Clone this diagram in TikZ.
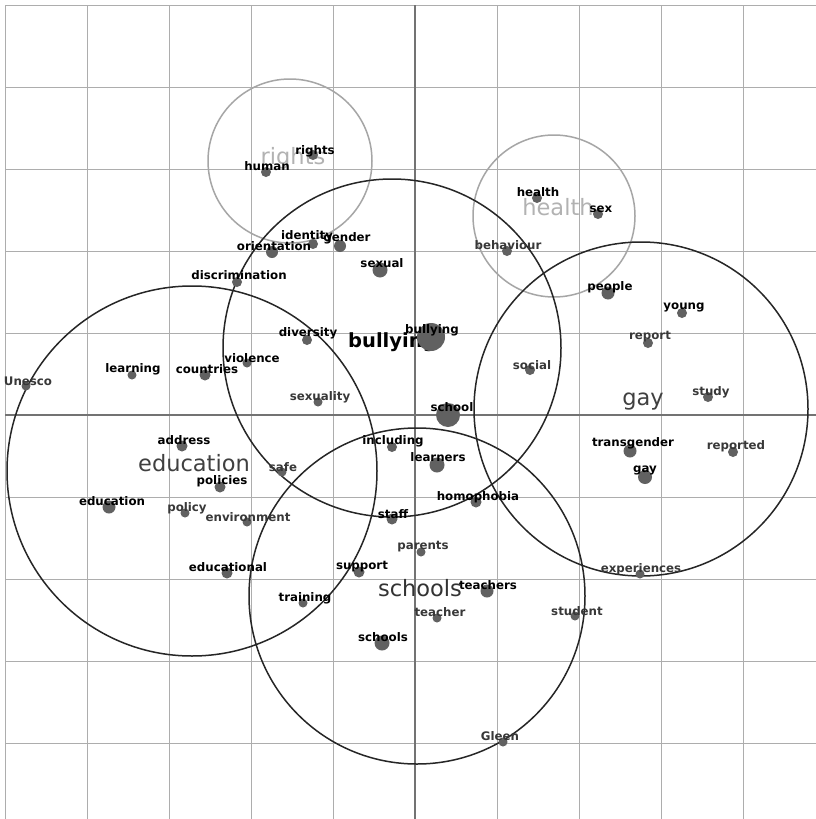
\documentclass[tikz,border=0pt]{standalone}
\usepackage{fontspec}
\setmainfont{DejaVu Sans}
\usepackage{tikz}

\begin{document}
\begin{tikzpicture}[x=1pt, y=-1pt,
    gridline/.style={black!32, line width=1pt},
    axisline/.style={black!55, line width=1.3pt},
    ring/.style={draw=black!85, line width=1.5pt, circle, inner sep=0pt},
    faintring/.style={draw=black!35, line width=1.5pt, circle, inner sep=0pt},
    termdot/.style={circle, fill=black!62, inner sep=0pt, minimum size=#1},
    termdot/.default=10pt,
    term/.style={font=\bfseries\fontsize{11.8}{11.8}\selectfont, inner sep=0pt},
    softterm/.style={font=\bfseries\fontsize{11.8}{11.8}\selectfont, text=black!78, inner sep=0pt},
    topic/.style={font=\fontsize{22.5}{22.5}\selectfont, inner sep=0pt}]
        % Cluster map of terms
        \useasboundingbox[fill=white] (0,0) rectangle (816,819);
        \foreach \k in {0,...,9} {
            \draw[gridline] (5+82*\k,5) -- (5+82*\k,819);
            \draw[gridline] (5,5+82*\k) -- (816,5+82*\k);
        }
        \draw[axisline] (415,5) -- (415,819);
        \draw[axisline] (5,415) -- (816,415);

        % clusters
        \node[faintring, minimum size=164pt] (rights-ring) at (290,161) {};
        \node[faintring, minimum size=162pt] (health-ring) at (554,216) {};
        \node[ring, minimum size=338pt] (bullying-ring) at (392,348) {};
        \node[ring, minimum size=334pt] (gay-ring) at (641,409) {};
        \node[ring, minimum size=370pt] (education-ring) at (192,471) {};
        \node[ring, minimum size=336pt] (schools-ring) at (417,596) {};

        \node[topic, text=black!30] (rights-topic) at (293,158) {rights};
        \node[topic, text=black!30] (health-topic) at (558,207) {health};
        \node[topic, font=\bfseries\fontsize{19.5}{19.5}\selectfont, anchor=west] (bullying-topic) at (348,342) {bullying};
        \node[topic, text=black!75] (gay-topic) at (643,402) {gay};
        \node[topic, text=black!75] (education-topic) at (194,463) {education};
        \node[topic, text=black!80] (schools-topic) at (420,588) {schools};

        % term dots
        \node[termdot] (d-rights) at (313,155) {};
        \node[termdot] (d-human) at (266,172) {};
        \node[termdot] (d-identity) at (313,244) {};
        \node[termdot=12pt] (d-gender) at (340,246) {};
        \node[termdot=12pt] (d-orientation) at (272,252) {};
        \node[termdot=15pt] (d-sexual) at (380,270) {};
        \node[termdot] (d-discrimination) at (237,282) {};
        \node[termdot] (d-health) at (537,198) {};
        \node[termdot] (d-sex) at (598,214) {};
        \node[termdot] (d-behaviour) at (507,251) {};
        \node[termdot=13pt] (d-people) at (608,293) {};
        \node[termdot] (d-young) at (682,313) {};
        \node[termdot] (d-report) at (648,343) {};
        \node[termdot] (d-social) at (530,370) {};
        \node[termdot] (d-study) at (708,397) {};
        \node[termdot=13pt] (d-transgender) at (630,451) {};
        \node[termdot] (d-reported) at (733,452) {};
        \node[termdot=14pt] (d-gay) at (645,477) {};
        \node[termdot=28pt] (d-bullying) at (431,337) {};
        \node[termdot] (d-diversity) at (307,340) {};
        \node[termdot=9pt] (d-violence) at (247,363) {};
        \node[termdot=9pt] (d-learning) at (132,375) {};
        \node[termdot=11pt] (d-countries) at (205,375) {};
        \node[termdot=9pt] (d-unesco) at (26,386) {};
        \node[termdot=9pt] (d-sexuality) at (318,402) {};
        \node[termdot=24pt] (d-school) at (448,415) {};
        \node[termdot=11pt] (d-address) at (182,446) {};
        \node[termdot=9pt] (d-safe) at (282,472) {};
        \node[termdot=11pt] (d-policies) at (220,487) {};
        \node[termdot=13pt] (d-education) at (109,507) {};
        \node[termdot=9pt] (d-policy) at (185,513) {};
        \node[termdot=9pt] (d-environment) at (247,522) {};
        \node[termdot] (d-including) at (392,447) {};
        \node[termdot=15pt] (d-learners) at (437,465) {};
        \node[termdot=11pt] (d-homophobia) at (476,502) {};
        \node[termdot=11pt] (d-staff) at (392,519) {};
        \node[termdot=9pt] (d-parents) at (421,552) {};
        \node[termdot=11pt] (d-support) at (359,572) {};
        \node[termdot=13pt] (d-teachers) at (487,591) {};
        \node[termdot=11pt] (d-educational) at (227,573) {};
        \node[termdot=9pt] (d-training) at (303,603) {};
        \node[termdot=9pt] (d-teacher) at (437,618) {};
        \node[termdot=9pt] (d-student) at (575,616) {};
        \node[termdot=15pt] (d-schools) at (382,643) {};
        \node[termdot=9pt] (d-gleen) at (503,742) {};
        \node[termdot=9pt] (d-experiences) at (640,574) {};

        % term labels
        \node[term] (rights) at (315,151) {rights};
        \node[term] (human) at (267,166) {human};
        \node[term] (identity) at (307,236) {identity};
        \node[term] (gender) at (347,238) {gender};
        \node[term] (orientation) at (274,246) {orientation};
        \node[term] (sexual) at (382,263) {sexual};
        \node[term] (discrimination) at (239,275) {discrimination};
        \node[term] (health) at (538,192) {health};
        \node[term] (sex) at (601,209) {sex};
        \node[softterm] (behaviour) at (508,245) {behaviour};
        \node[term] (people) at (610,287) {people};
        \node[term] (young) at (684,307) {young};
        \node[softterm] (report) at (650,337) {report};
        \node[softterm] (social) at (532,365) {social};
        \node[softterm] (study) at (711,392) {study};
        \node[term] (transgender) at (633,443) {transgender};
        \node[softterm] (reported) at (736,446) {reported};
        \node[term] (gay) at (645,470) {gay};
        \node[term] (bullying) at (432,330) {bullying};
        \node[term] (diversity) at (308,333) {diversity};
        \node[term] (violence) at (252,358) {violence};
        \node[term] (learning) at (133,369) {learning};
        \node[term] (countries) at (207,369) {countries};
        \node[softterm] (unesco) at (28,381) {Unesco};
        \node[softterm] (sexuality) at (320,397) {sexuality};
        \node[term] (school) at (452,407) {school};
        \node[term] (address) at (184,440) {address};
        \node[softterm] (safe) at (283,467) {safe};
        \node[term] (policies) at (222,481) {policies};
        \node[term] (education) at (112,501) {education};
        \node[softterm] (policy) at (187,508) {policy};
        \node[softterm] (environment) at (248,517) {environment};
        \node[term] (including) at (393,441) {including};
        \node[term] (learners) at (438,457) {learners};
        \node[term] (homophobia) at (478,497) {homophobia};
        \node[term] (staff) at (393,514) {staff};
        \node[softterm] (parents) at (423,547) {parents};
        \node[term] (support) at (362,567) {support};
        \node[term] (teachers) at (488,585) {teachers};
        \node[term] (educational) at (228,567) {educational};
        \node[term] (training) at (305,598) {training};
        \node[softterm] (teacher) at (440,612) {teacher};
        \node[softterm] (student) at (577,611) {student};
        \node[term] (schools) at (383,637) {schools};
        \node[softterm] (gleen) at (500,736) {Gleen};
        \node[softterm] (experiences) at (641,569) {experiences};
    \end{tikzpicture}
\end{document}
